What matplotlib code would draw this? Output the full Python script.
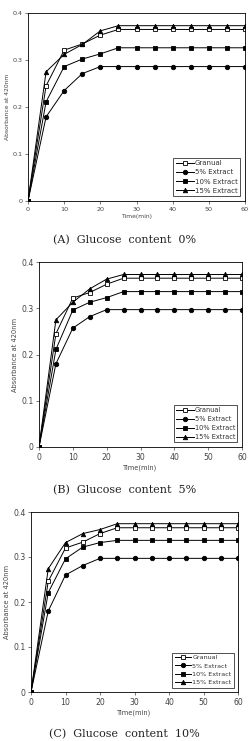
import matplotlib
matplotlib.use("Agg")
import matplotlib.pyplot as plt

# ---------------- DATA ----------------
time_min = [0, 5, 10, 15, 20, 25, 30, 35, 40, 45, 50, 55, 60]
series_names = ["Granual", "5% Extract", "10% Extract", "15% Extract"]
captions = ["(A)  Glucose  content  0%", "(B)  Glucose  content  5%", "(C)  Glucose  content  10%"]

# glucose 0%
a_granual = [0, 0.245, 0.321, 0.334, 0.353] + [0.365] * 8
a_ext5 = [0, 0.179, 0.235, 0.271] + [0.286] * 9
a_ext10 = [0, 0.211, 0.286, 0.302, 0.313] + [0.326] * 8
a_ext15 = [0, 0.275, 0.312, 0.333, 0.362] + [0.373] * 8

# glucose 5%
b_granual = [0, 0.245, 0.322, 0.334, 0.352] + [0.365] * 8
b_ext5 = [0, 0.180, 0.257, 0.282] + [0.297] * 9
b_ext10 = [0, 0.211, 0.296, 0.313, 0.323] + [0.336] * 8
b_ext15 = [0, 0.275, 0.313, 0.342, 0.363] + [0.373] * 8

# glucose 10%
c_granual = [0, 0.246, 0.320, 0.333, 0.352] + [0.365] * 8
c_ext5 = [0, 0.180, 0.260, 0.281] + [0.297] * 9
c_ext10 = [0, 0.221, 0.296, 0.322, 0.332] + [0.337] * 8
c_ext15 = [0, 0.274, 0.332, 0.352, 0.361] + [0.374] * 8

panels = [
    [a_granual, a_ext5, a_ext10, a_ext15],
    [b_granual, b_ext5, b_ext10, b_ext15],
    [c_granual, c_ext5, c_ext10, c_ext15],
]

# ---------------- LAYOUT ----------------
W, H = 249, 741
# (left, right, top, bottom) in pixels
boxes = [(28, 245, 13, 201), (39, 242, 262, 447), (31, 238, 512, 692)]
tick_fs = [4.6, 5.6, 5.6]
label_fs = [4.3, 4.8, 4.8]
legend_fs = [5.0, 4.8, 4.6]
caption_y = [240, 490, 734]

markers = [dict(marker="s", mfc="white"), dict(marker="o", mfc="black"),
           dict(marker="s", mfc="black"), dict(marker="^", mfc="black")]

fig = plt.figure(figsize=(W / 100, H / 100), dpi=100)

for i, data in enumerate(panels):
    l, r, t, b = boxes[i]
    ax = fig.add_axes([l / W, 1 - b / H, (r - l) / W, (b - t) / H])
    for name, vals, m in zip(series_names, data, markers):
        ax.plot(time_min, vals, color="black", lw=0.7, marker=m["marker"],
                mfc=m["mfc"], mec="black", mew=0.6, ms=3.2, label=name)
    ax.set_xlim(0, 60)
    ax.set_ylim(0, 0.4)
    ax.set_xticks([0, 10, 20, 30, 40, 50, 60])
    ax.set_yticks([0, 0.1, 0.2, 0.3, 0.4])
    ax.set_yticklabels(["0", "0.1", "0.2", "0.3", "0.4"])
    ax.tick_params(labelsize=tick_fs[i], length=2, width=0.5, colors="#444444", pad=2)
    for s in ax.spines.values():
        s.set_linewidth(0.6)
    ax.set_xlabel("Time(min)", fontsize=label_fs[i], color="#444444", labelpad=2)
    ax.set_ylabel("Absorbance at 420nm", fontsize=label_fs[i], color="#444444", labelpad=2)
    leg = ax.legend(loc="lower right", fontsize=legend_fs[i], frameon=True, fancybox=False,
                    edgecolor="black", handlelength=2.6, handletextpad=0.15,
                    borderpad=0.35, labelspacing=0.45, borderaxespad=0.7)
    leg.get_frame().set_linewidth(0.6)
    for txt in leg.get_texts():
        txt.set_color("#333333")
    fig.text(0.5, 1 - caption_y[i] / H, captions[i], ha="center", va="center",
             fontsize=8, family="DejaVu Serif", color="#222222")

fig.savefig("out.png", dpi=100)
